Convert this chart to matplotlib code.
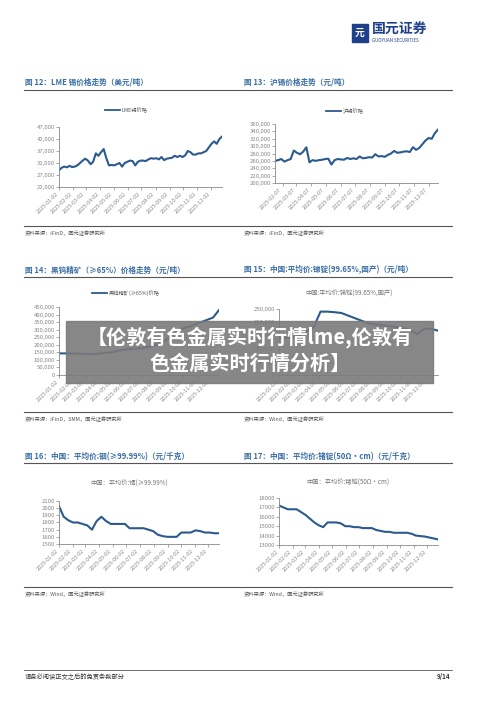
import matplotlib
matplotlib.use("Agg")
import matplotlib.pyplot as plt
import pandas as pd
from matplotlib.patches import Rectangle

plt.rcParams['font.family'] = ['Noto Sans CJK SC', 'DejaVu Sans']

lme_vals = [29000,30000,30500,30200,30800,30300,30500,31000,32000,33000,33800,33000,31500,32500,36000,35000,36500,37800,34000,31000,31200,31000,31500,32000,30500,32000,32500,33000,32800,31000,32500,33000,33000,32800,33500,34000,33800,34000,33500,34500,33200,33800,34000,34200,35000,34500,35000,34500,35200,37000,36500,35500,35500,36000,36000,36500,37000,38500,40000,41000,40000,42000,43000]
shfe_vals = [260000,262000,265000,258000,262000,265000,288000,282000,278000,285000,297000,256000,262000,260000,262000,263000,265000,266000,250000,262000,265000,264000,263000,268000,265000,267000,265000,272000,267000,268000,270000,269000,278000,272000,273000,271000,276000,280000,287000,282000,283000,285000,286000,284000,297000,290000,295000,305000,315000,322000,320000,335000,345000]
w_vals = [143000,143000,143000,142000,140000,138000,140000,142000,148000,150000,160000,168000,172000,175000,178000,185000,195000,210000,230000,260000,290000,310000,320000,335000,350000,365000,380000,430000]
sb_vals = [140000,141000,142000,150000,165000,180000,240000,240000,238000,235000,225000,215000,205000,195000,192000,188000,185000,182000,178000,170000,155000,175000,175000,168000]
in_vals = [2030,1880,1830,1800,1800,1780,1760,1700,1820,1880,1820,1780,1780,1780,1780,1720,1720,1720,1720,1700,1680,1630,1610,1600,1600,1600,1660,1660,1660,1690,1680,1660,1660,1650,1650]
ge_vals = [17200,17000,16800,16800,16800,16500,16200,15800,15400,15100,14900,15400,15400,15400,15300,15000,15000,14900,14900,14800,14800,14800,14600,14500,14400,14400,14300,14300,14300,14300,14200,14000,13950,13900,13800,13700,13600]

BLUE = '#2b5b8e'
TITLE = '#3a6ea5'
fig = plt.figure(figsize=(5, 7.06), dpi=100)
W, H = 500, 706

def rect(x0, y0, x1, y1):
    return [x0/W, 1-y1/H, (x1-x0)/W, (y1-y0)/H]

def panel(x0, y0, x1, y1, vals, start, end, tick_day, ymin, ymax, step, legend, leg_xy, legend_line=True):
    ax = fig.add_axes(rect(x0, y0, x1, y1))
    xs = pd.date_range(start, end, periods=len(vals))
    ax.plot(xs, vals, color=BLUE, lw=1.5)
    first_month = int(start[5:7]) if tick_day >= int(start[8:10]) else int(start[5:7]) + 1
    ticks = [pd.Timestamp(2025, m, tick_day) for m in range(first_month, 13)]
    ax.set_xticks(ticks)
    ax.set_xticklabels([t.strftime('%Y-%m-%d') for t in ticks], rotation=45, ha='right', fontsize=4, color='#444')
    ax.set_xlim(pd.Timestamp(start), pd.Timestamp(end))
    ax.set_ylim(ymin, ymax)
    yt = list(range(ymin, ymax+1, step))
    ax.set_yticks(yt)
    if step >= 5000:
        ax.set_yticklabels([f'{v:,}' for v in yt], fontsize=4.3, color='#444')
    else:
        ax.set_yticklabels([str(v) for v in yt], fontsize=4.3, color='#444')
    for s in ['top', 'right']:
        ax.spines[s].set_visible(False)
    for s in ['left', 'bottom']:
        ax.spines[s].set_color('#888'); ax.spines[s].set_linewidth(0.6)
    ax.tick_params(length=2, width=0.5, pad=1, colors='#888')
    lx, ly = leg_xy
    if legend_line:
        fig.add_artist(plt.Line2D([lx/W, (lx+15)/W], [1-ly/H]*2, color=BLUE, lw=1.3))
        fig.text((lx+17)/W, 1-ly/H, legend, fontsize=3.8, color='#555', va='center')
    else:
        fig.text(lx/W, 1-ly/H, legend, fontsize=4.5, color='#777', va='center', ha='center')
    return ax

def section(y_title, y_line, titles, y_src_line, srcs):
    fig.text(25/W, 1-y_title/H, titles[0], fontsize=5.5, color=TITLE, fontweight='bold', va='center')
    fig.text(244/W, 1-y_title/H, titles[1], fontsize=5.5, color=TITLE, fontweight='bold', va='center')
    fig.add_artist(plt.Line2D([24/W, 452/W], [1-y_line/H]*2, color='#555', lw=0.8))
    fig.add_artist(plt.Line2D([24/W, 452/W], [1-y_src_line/H]*2, color='#555', lw=0.8))
    fig.text(25/W, 1-(y_src_line+7)/H, srcs[0], fontsize=3.8, color='#555', va='center')
    fig.text(244/W, 1-(y_src_line+7)/H, srcs[1], fontsize=3.8, color='#555', va='center')

# header
fig.text(372/W, 1-30/H, '国元证券', fontsize=10, color='#1f3f8a', fontweight='bold', va='center')
fig.text(372/W, 1-41/H, 'GUOYUAN SECURITIES', fontsize=3.2, color='#1f3f8a', va='center')
fig.add_artist(Rectangle((352/W, 1-42/H), 16/W, 18/H, color='#1f3f8a'))
fig.text(360/W, 1-33/H, '元', fontsize=7, color='white', ha='center', va='center', fontweight='bold')

section(82, 90, ['图 12：LME 锡价格走势（美元/吨）', '图 13：沪锡价格走势（元/吨）'], 226, ['资料来源：iFinD，国元证券研究所', '资料来源：iFinD，国元证券研究所'])
panel(59, 127, 222, 187, lme_vals, '2025-01-02', '2025-12-26', 2, 22000, 47000, 5000, 'LME锡价格', (105, 110))
panel(275, 124, 438, 183, shfe_vals, '2025-01-22', '2025-12-26', 7, 200000, 360000, 20000, '沪锡价格', (326, 111))

section(270, 277, ['图 14：黑钨精矿（≥65%）价格走势（元/吨）', '图 15：中国:平均价:锑锭(99.65%,国产)（元/吨）'], 412, ['资料来源：iFinD，SMM，国元证券研究所', '资料来源：Wind，国元证券研究所'])
panel(59, 307, 219, 375, w_vals, '2025-01-02', '2025-12-20', 2, 0, 450000, 50000, '黑钨精矿(≥65%)价格', (92, 293))
panel(279, 309, 438, 375, sb_vals, '2025-01-01', '2025-12-26', 1, 0, 250000, 50000, '中国:平均价:锑锭(99.65%,国产)', (349, 294), legend_line=False)

section(457, 463, ['图 16：中国：平均价:铟(≥99.99%)（元/千克）', '图 17：中国：平均价:锗锭(50Ω·cm)（元/千克）'], 587, ['资料来源：Wind，国元证券研究所', '资料来源：Wind，国元证券研究所'])
panel(59, 501, 219, 544, in_vals, '2025-01-02', '2025-12-26', 2, 1500, 2100, 100, '中国：平均价:铟(≥99.99%)', (129, 484), legend_line=False)
panel(279, 498, 438, 545, ge_vals, '2025-01-02', '2025-12-26', 2, 13000, 18000, 1000, '中国：平均价:锗锭(50Ω·cm)', (348, 483), legend_line=False)

# banner
fig.add_artist(Rectangle((66/W, 1-383/H), (433-66)/W, 62/H, color='#7a7a7a', alpha=0.9))
fig.text(250/W, 1-337/H, '【伦敦有色金属实时行情lme,伦敦有', fontsize=14.5, color='white', fontweight='bold', ha='center', va='center')
fig.text(250/W, 1-363/H, '色金属实时行情分析】', fontsize=14.5, color='white', fontweight='bold', ha='center', va='center')

# footer
fig.add_artist(plt.Line2D([24/W, 452/W], [1-670/H]*2, color='#555', lw=0.6))
fig.text(25/W, 1-677/H, '请务必阅读正文之后的免责条款部分', fontsize=4.5, color='#333', va='center')
fig.text(450/W, 1-677/H, '9/14', fontsize=4.5, color='#333', va='center', ha='right', fontweight='bold')

fig.savefig('out.png', dpi=100)
